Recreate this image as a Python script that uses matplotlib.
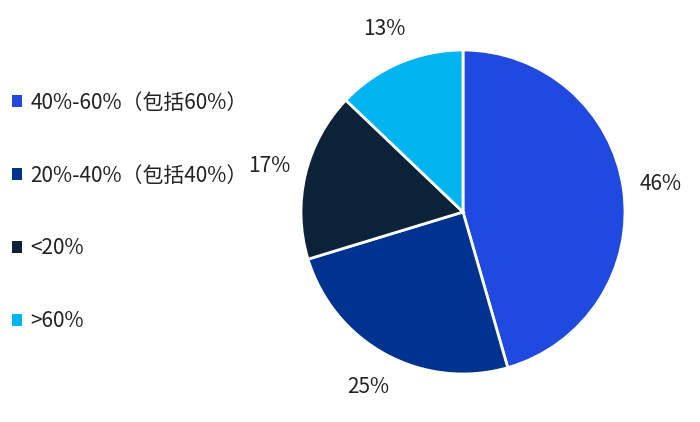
import matplotlib.pyplot as plt
from matplotlib.patches import Patch

plt.rcParams['font.family'] = ['Noto Sans CJK SC', 'DejaVu Sans']

# Data
categories = ["40%-60%（包括60%）", "20%-40%（包括40%）", "<20%", ">60%"]
values = [46, 25, 17, 13]
colors = ["#2049E0", "#003390", "#0C2238", "#00B4EF"]

fig = plt.figure(figsize=(7, 4.22), dpi=100)
ax = fig.add_axes([301 / 700, 48 / 422, 324 / 700, 324 / 422])

wedges, texts = ax.pie(values, colors=colors, startangle=90, counterclock=False,
                       labels=[f"{v}%" for v in values], labeldistance=1.23,
                       wedgeprops=dict(edgecolor="white", linewidth=2),
                       textprops=dict(fontsize=15, color="#222222"))
for t in texts:
    t.set_horizontalalignment("center")
ax.set_xlim(-1, 1)
ax.set_ylim(-1, 1)
ax.set_aspect("equal")

handles = [Patch(facecolor=c, edgecolor="none") for c in colors]
fig.legend(handles, categories, loc="upper left", bbox_to_anchor=(-0.01, 0.827),
           frameon=False, fontsize=15, labelcolor="#222222",
           handlelength=0.5, handleheight=0.5,
           handletextpad=0.4, labelspacing=2.44)

fig.savefig("out.png", dpi=100, facecolor="white")
